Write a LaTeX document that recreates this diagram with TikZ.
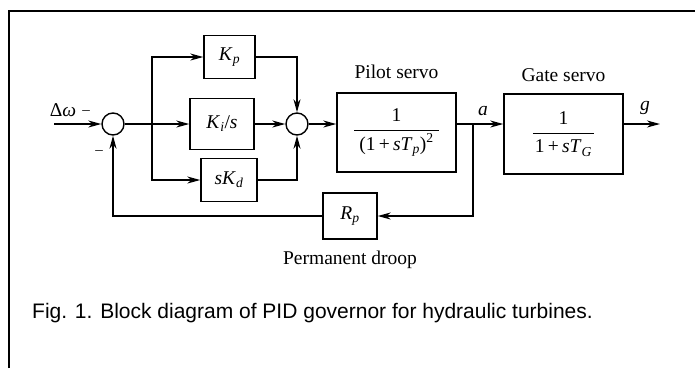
\documentclass[tikz,border=0pt]{standalone}
\usepackage{fontspec}
\setmainfont{Liberation Serif}
\newfontfamily\capfont{Liberation Sans}
\usetikzlibrary{arrows.meta,positioning}

\newcommand{\lbl}{\fontsize{19.5}{22}\selectfont}
\newcommand{\mv}[1]{\textit{#1}}
\newcommand{\sub}[1]{\textsubscript{\textit{#1}}}

\tikzset{
  block/.style={draw, line width=1.4pt, inner sep=0pt, font=\lbl},
  sumnode/.style={draw, circle, line width=1.4pt, minimum size=22pt, inner sep=0pt},
  sig/.style={line width=1.4pt, -{Stealth[length=13pt,width=7pt,inset=4pt]}},
  lbl/.style={font=\lbl, inner sep=0pt}
}

\begin{document}
\begin{tikzpicture}[x=1pt, y=-1pt]
\useasboundingbox (0,0) rectangle (695,368);
\draw[line width=1.8pt] (9,368) -- (9,11) -- (695,11);

% summing points
\node[sumnode] (s1) at (113,124) {};
\node[sumnode] (s2) at (297,124) {};

% PID branches
\node[block, minimum width=51pt, minimum height=43pt] (kp) at (229.5,57) {\mv{K}\sub{p}};
\node[block, minimum width=64pt, minimum height=51pt] (ki) at (222,124) {\mv{K}\sub{i}/\mv{s}};
\node[block, minimum width=56pt, minimum height=43pt] (kd) at (229,180) {\mv{sK}\sub{d}};

% servos and droop
\node[block, minimum width=119pt, minimum height=79pt] (pilot) at (396.5,132.5)
  {$\displaystyle\frac{\mbox{1}}{\mbox{\hspace{5pt}(1\,+\,\mv{sT}\sub{p})\textsuperscript{2}\hspace{5pt}}}$};
\node[block, minimum width=119pt, minimum height=80pt] (gate) at (563.5,134)
  {$\displaystyle\frac{\mbox{1}}{\mbox{\hspace{2pt}1\,+\,\mv{sT}\sub{G}\hspace{2pt}}}$};
\node[block, minimum width=54pt, minimum height=46pt] (rp) at (350,216) {\mv{R}\sub{p}};

\node[lbl, above=13pt of pilot] (pilotlbl) {Pilot servo};
\node[lbl, above=11pt of gate] (gatelbl) {Gate servo};
\node[lbl, below=11pt of rp] (rplbl) {Permanent droop};

% signal labels
\node[lbl] (dw) at (63,110) {Δ\mv{ω}};
\node[lbl, font=\fontsize{15}{17}\selectfont] (m1) at (86,113) {–};
\node[lbl, font=\fontsize{15}{17}\selectfont] (m2) at (99,153) {–};
\node[lbl] (alab) at (483,111) {\mv{a}};
\node[lbl] (glab) at (645,108) {\mv{g}};

\coordinate (in) at (54,124);
\coordinate (br) at (152,124);
\coordinate (tap) at (473,124);
\coordinate (out) at (660,124);

\draw[sig] (in) -- (s1);
\draw[sig] (s1) -- (ki);
\draw[sig] (br) |- (kp);
\draw[sig] (br) |- (kd);
\draw[sig] (kp) -| (s2);
\draw[sig] (ki) -- (s2);
\draw[sig] (kd) -| (s2);
\draw[sig] (s2) -- (s2 -| pilot.west);
\draw[sig] (tap -| pilot.east) -- (tap -| gate.west);
\draw[sig] (tap -| gate.east) -- (out);
\draw[sig] (tap) |- (rp);
\draw[sig] (rp) -| (s1);

\node[font=\capfont\fontsize{21}{25}\selectfont, anchor=base west, inner sep=0pt] (cap) at (32,318)
  {Fig. 1. Block diagram of PID governor for hydraulic turbines.};
\end{tikzpicture}
\end{document}
